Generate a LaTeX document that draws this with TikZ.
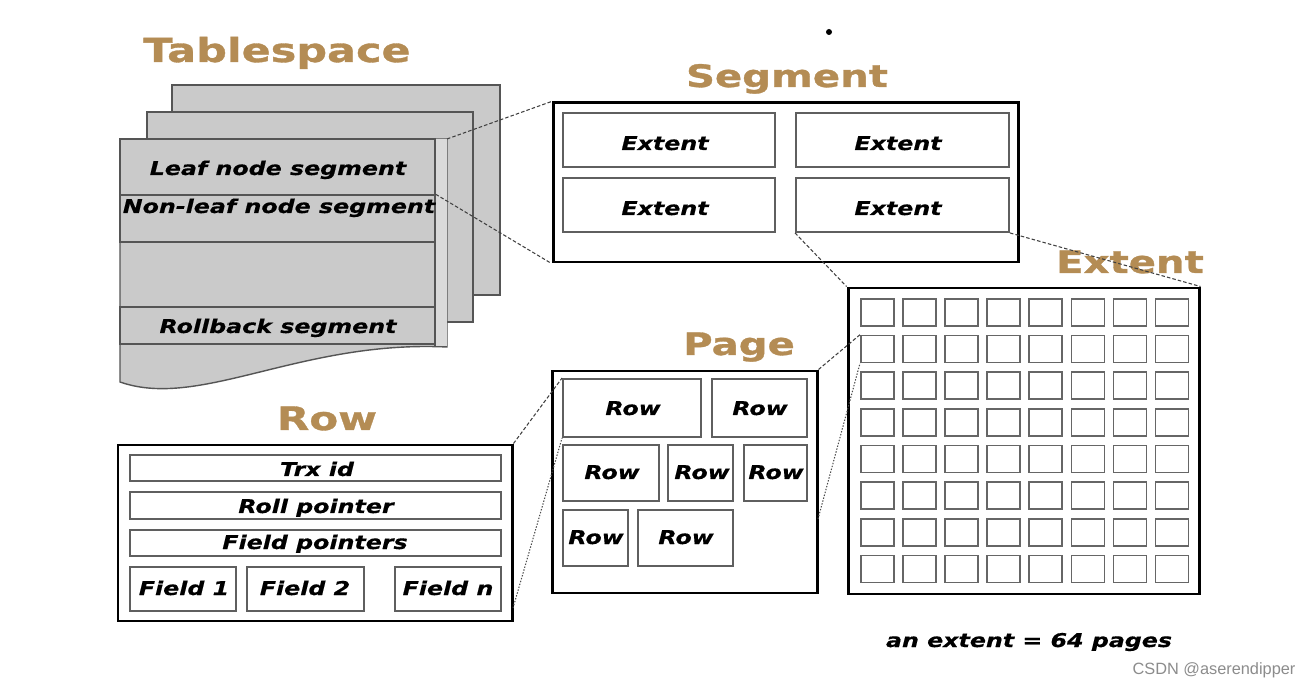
\documentclass[tikz,border=0pt]{standalone}
\usepackage{fontspec}
\usepackage{graphicx}
\usetikzlibrary{fit}
\newfontfamily\lblfont[FakeStretch=1.25,FakeBold=0.5]{DejaVu Sans}
\newfontfamily\ttlfont[FakeStretch=1.3,FakeBold=1]{DejaVu Sans}
\newfontfamily\wmfont{Liberation Sans}
\definecolor{gold}{RGB}{180,140,84}
\definecolor{sheet}{RGB}{202,202,202}
\definecolor{sheetlight}{RGB}{218,218,218}
\definecolor{sheetline}{RGB}{85,85,85}
\definecolor{inner}{RGB}{95,95,95}
\begin{document}
\begin{tikzpicture}[x=0.02cm,y=-0.02cm,
  ttl/.style={font=\ttlfont\bfseries\fontsize{17.6pt}{20pt}\selectfont, text=gold, inner sep=0, anchor=base},
  lbl/.style={font=\lblfont\bfseries\itshape\fontsize{10.8pt}{12pt}\selectfont, inner sep=0, anchor=base},
  outer/.style={draw=black, line width=1.7pt, inner sep=0, fill=white},
  inbox/.style={draw=inner, line width=1.1pt, inner sep=0},
  sheetbox/.style={draw=sheetline, fill=sheet, line width=0.8pt, inner sep=0},
  conn/.style={draw=black!75, line width=0.6pt, dash pattern=on 2pt off 1.2pt},
  dotconn/.style={draw=black!70, line width=0.6pt, dash pattern=on 0.8pt off 0.9pt},
  sq/.style={draw=black!60, line width=0.9pt, inner sep=0, minimum width=0.66cm, minimum height=0.54cm, anchor=north west}
]
\useasboundingbox (0,0) rectangle (1314,688);
\fill[white] (0,0) rectangle (1314,688);

% ---------- Tablespace ----------
\node[ttl, font=\ttlfont\bfseries\fontsize{18.8pt}{21pt}\selectfont] (T-ts) at (277,62) {Tablespace};
\node[sheetbox, fit={(172,85)(500,295)}] (ts3) {};
\node[sheetbox, fit={(147,112)(473,322)}] (ts2) {};
\path[sheetbox] (120,139) -- (447,139) -- (447,347) .. controls (300,340) and (200,410) .. (120,382) -- cycle;
\fill[sheetlight] (435.5,139.5) rectangle (446.5,346);
\draw[sheetline, line width=0.8pt] (435,139) -- (435,346);
\coordinate (tsf-tr) at (447,139);
\node[sheetbox, fit={(120,139)(435,195)}] (leaf) {};
\node[sheetbox, fit={(120,195)(435,242)}] (nonleaf) {};
\node[sheetbox, fit={(120,307)(435,344)}] (rollback) {};
\node[lbl] (t-leaf) at (278,175) {Leaf node segment};
\node[lbl] (t-nonleaf) at (279,213) {Non-leaf node segment};
\node[lbl] (t-roll) at (278,333) {Rollback segment};

% ---------- Segment ----------
\node[ttl] (T-seg) at (787,87) {Segment};
\node[outer, fit={(553,103)(1018,262)}] (seg) {};
\node[inbox, fit={(563,113)(775,167)}] (ext1) {};
\node[inbox, fit={(796,113)(1009,167)}] (ext2) {};
\node[inbox, fit={(563,178)(775,232)}] (ext3) {};
\node[inbox, fit={(796,178)(1009,232)}] (ext4) {};
\node[lbl] (t-ext1) at (665,150) {Extent};
\node[lbl] (t-ext2) at (898,150) {Extent};
\node[lbl] (t-ext3) at (665,215) {Extent};
\node[lbl] (t-ext4) at (898,215) {Extent};

% ---------- Extent ----------
\node[ttl] (T-ext) at (1130,273) {Extent};
\node[outer, fit={(848,288)(1199,594)}] (extbox) {};
\foreach \i in {1,...,8} {
  \foreach \j in {1,...,8} {
    \node[sq] (sq-\i-\j) at ({860+42.1*(\j-1)},{298+36.7*(\i-1)}) {};
  }
}
\node[lbl] (t-64) at (1029,647) {an extent = 64 pages};

% ---------- Page ----------
\node[ttl] (T-page) at (739,355) {Page};
\node[outer, fit={(552,371)(817,593)}] (pagebox) {};
\node[inbox, fit={(563,379)(701,437)}] (r1) {};
\node[inbox, fit={(712,379)(807,437)}] (r2) {};
\node[inbox, fit={(563,445)(659,501)}] (r3) {};
\node[inbox, fit={(668,445)(733,501)}] (r4) {};
\node[inbox, fit={(744,445)(807,501)}] (r5) {};
\node[inbox, fit={(563,510)(628,566)}] (r6) {};
\node[inbox, fit={(638,510)(733,566)}] (r7) {};
\node[lbl] (t-r1) at (633,415) {Row};
\node[lbl] (t-r2) at (760,415) {Row};
\node[lbl] (t-r3) at (612,479) {Row};
\node[lbl] (t-r4) at (702,479) {Row};
\node[lbl] (t-r5) at (776,479) {Row};
\node[lbl] (t-r6) at (596,544) {Row};
\node[lbl] (t-r7) at (686,544) {Row};

% ---------- Row ----------
\node[ttl, font=\ttlfont\bfseries\fontsize{18.4pt}{21pt}\selectfont] (T-row) at (327,430) {Row};
\node[outer, fit={(118,445)(512,621)}] (rowbox) {};
\node[inbox, fit={(130,455)(501,481)}] (trx) {};
\node[inbox, fit={(130,492)(501,519)}] (rollp) {};
\node[inbox, fit={(130,530)(501,556)}] (fptr) {};
\node[inbox, fit={(130,567)(236,611)}] (f1) {};
\node[inbox, fit={(247,567)(364,611)}] (f2) {};
\node[inbox, fit={(395,567)(501,611)}] (fn) {};
\node[lbl] (t-trx) at (317,476) {Trx id};
\node[lbl] (t-rollp) at (316,513) {Roll pointer};
\node[lbl] (t-fptr) at (315,549) {Field pointers};
\node[lbl] (t-f1) at (184,595) {Field 1};
\node[lbl] (t-f2) at (305,595) {Field 2};
\node[lbl] (t-fn) at (448,595) {Field \textit{n}};

% ---------- connectors ----------
\draw[conn] (tsf-tr) -- (seg.north west);
\draw[conn] (nonleaf.north east) -- (seg.south west);
\draw[conn] (ext4.south west) -- (extbox.north west);
\draw[conn] (ext4.south east) -- (extbox.north east);
\draw[conn] (pagebox.north east) -- (sq-2-1.north west);
\coordinate (pagelow) at (818,519);
\draw[dotconn] (pagelow) -- (sq-2-1.south west);
\draw[conn] (rowbox.north east) -- (r1.north west);
\coordinate (rowlow) at (513,608);
\draw[dotconn] (rowlow) -- (r1.south west);

% ---------- misc ----------
\fill[black] (829,32) circle (3);
\node[font=\wmfont\fontsize{9.3pt}{11pt}\selectfont, text=black!45, inner sep=0, anchor=base] (wm) at (1214,674) {CSDN @aserendipper};
\end{tikzpicture}
\end{document}
